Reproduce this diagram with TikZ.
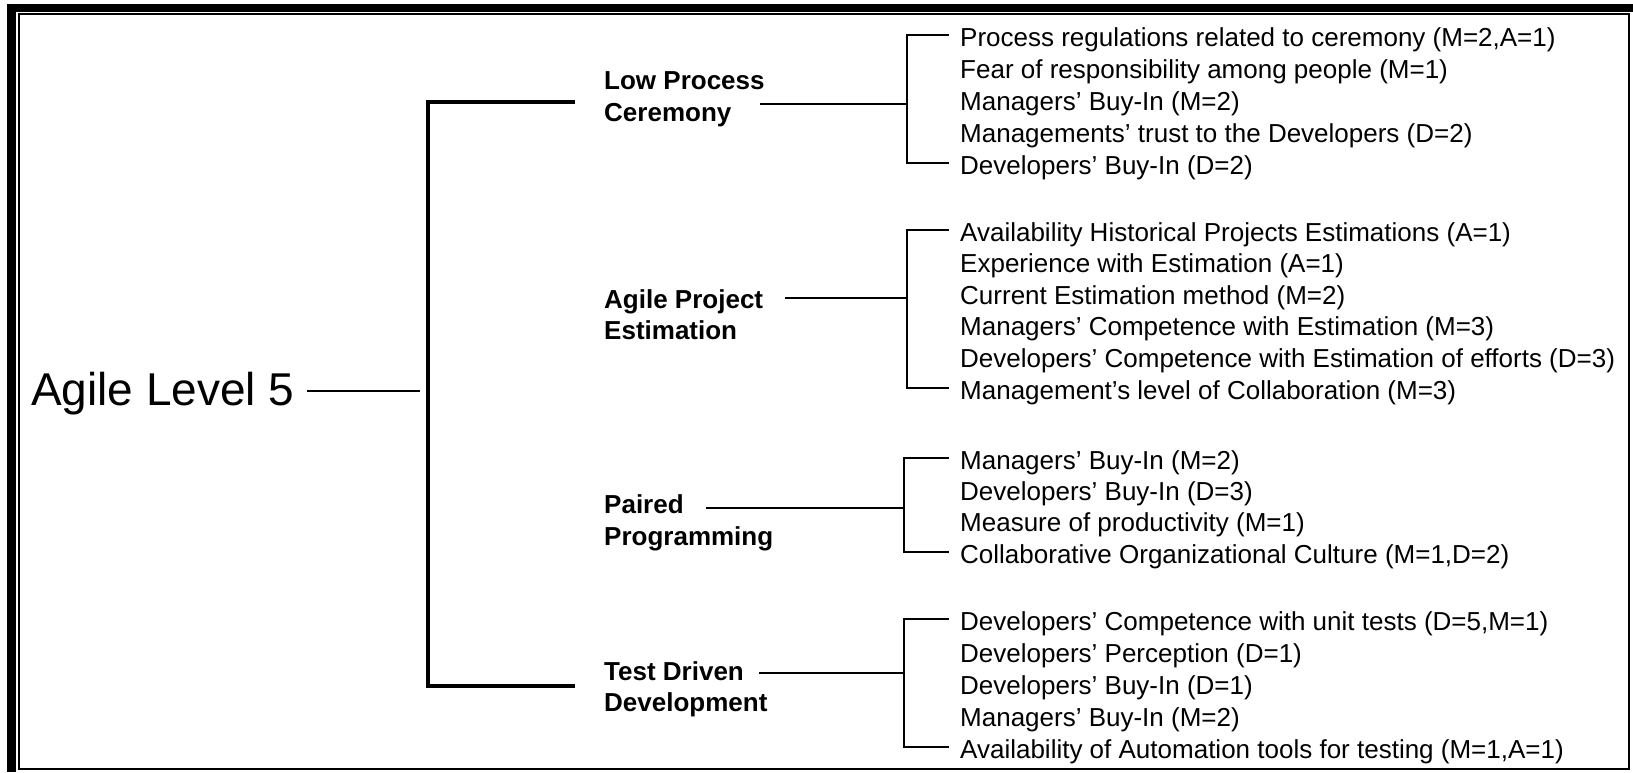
\documentclass[tikz,border=0pt]{standalone}
\usepackage{fontspec}
\setmainfont{Liberation Sans}
\begin{document}
\begin{tikzpicture}[x=1pt,y=-1pt,
  item/.style={anchor=base west,inner sep=0pt,font=\fontsize{26}{31}\selectfont},
  cat/.style={anchor=base west,inner sep=0pt,font=\fontsize{26}{31}\selectfont\bfseries},
  ttl/.style={anchor=base west,inner sep=0pt,font=\fontsize{46}{55}\selectfont},
  mainline/.style={line width=3.2pt,line join=miter},
  subline/.style={line width=1.4pt,line join=miter},
  conline/.style={line width=1.6pt}]
\useasboundingbox (0,0) rectangle (1633,772);
% frame
\fill[black] (7,4) rectangle (1633,12.3);
\fill[black] (7.3,4) rectangle (16,772);
\draw[line width=2.2pt] (19,14.3) rectangle (1629,769);

% title
\node[ttl] (title) at (31,405) {Agile Level 5};
\coordinate (t-s) at (307,391);
\coordinate (t-e) at (420,391);
\draw[line width=2pt] (t-s) -- (t-e);

% main bracket
\coordinate (m-ta) at (575,102);
\coordinate (m-t) at (428,102);
\coordinate (m-b) at (428,686);
\coordinate (m-ba) at (575,686);
\draw[mainline] (m-ta) -- (m-t) -- (m-b) -- (m-ba);

% categories
\node[cat] (lpc1) at (604,89.5) {Low Process};
\node[cat] (lpc2) at (604,121) {Ceremony};
\node[cat] (ape1) at (604,308) {Agile Project};
\node[cat] (ape2) at (604,339.5) {Estimation};
\node[cat] (pp1) at (604,513) {Paired};
\node[cat] (pp2) at (604,545) {Programming};
\node[cat] (tdd1) at (604,680) {Test Driven};
\node[cat] (tdd2) at (604,711) {Development};

% Low Process Ceremony
\coordinate (lpc-s) at (760,104);
\coordinate (lpc-j) at (907,104);
\coordinate (lpc-t) at (907,35);
\coordinate (lpc-b) at (907,163);
\coordinate (lpc-ta) at (949,35);
\coordinate (lpc-ba) at (949,163);
\draw[conline] (lpc-s) -- (lpc-j);
\draw[subline] (lpc-ta) -- (lpc-t) -- (lpc-b) -- (lpc-ba);
\node[item] (lpc-i1) at (960,46) {Process regulations related to ceremony (M=2,A=1)};
\node[item] (lpc-i2) at (960,78) {Fear of responsibility among people (M=1)};
\node[item] (lpc-i3) at (960,110) {Managers’ Buy-In (M=2)};
\node[item] (lpc-i4) at (960,142) {Managements’ trust to the Developers (D=2)};
\node[item] (lpc-i5) at (960,174) {Developers’ Buy-In (D=2)};

% Agile Project Estimation
\coordinate (ape-s) at (785,298);
\coordinate (ape-j) at (907,298);
\coordinate (ape-t) at (907,230);
\coordinate (ape-b) at (907,388);
\coordinate (ape-ta) at (949,230);
\coordinate (ape-ba) at (949,388);
\draw[conline] (ape-s) -- (ape-j);
\draw[subline] (ape-ta) -- (ape-t) -- (ape-b) -- (ape-ba);
\node[item] (ape-i1) at (960,241) {Availability Historical Projects Estimations (A=1)};
\node[item] (ape-i2) at (960,272.6) {Experience with Estimation (A=1)};
\node[item] (ape-i3) at (960,304.2) {Current Estimation method (M=2)};
\node[item] (ape-i4) at (960,335.8) {Managers’ Competence with Estimation (M=3)};
\node[item] (ape-i5) at (960,367.4) {Developers’ Competence with Estimation of efforts (D=3)};
\node[item] (ape-i6) at (960,399) {Management’s level of Collaboration (M=3)};

% Paired Programming
\coordinate (pp-s) at (706,508);
\coordinate (pp-j) at (904,508);
\coordinate (pp-t) at (904,458);
\coordinate (pp-b) at (904,552);
\coordinate (pp-ta) at (949,458);
\coordinate (pp-ba) at (949,552);
\draw[conline] (pp-s) -- (pp-j);
\draw[subline] (pp-ta) -- (pp-t) -- (pp-b) -- (pp-ba);
\node[item] (pp-i1) at (960,469) {Managers’ Buy-In (M=2)};
\node[item] (pp-i2) at (960,500.3) {Developers’ Buy-In (D=3)};
\node[item] (pp-i3) at (960,531.7) {Measure of productivity (M=1)};
\node[item] (pp-i4) at (960,563) {Collaborative Organizational Culture (M=1,D=2)};

% Test Driven Development
\coordinate (tdd-s) at (759,673);
\coordinate (tdd-j) at (904,673);
\coordinate (tdd-t) at (904,619);
\coordinate (tdd-b) at (904,747);
\coordinate (tdd-ta) at (949,619);
\coordinate (tdd-ba) at (949,747);
\draw[conline] (tdd-s) -- (tdd-j);
\draw[subline] (tdd-ta) -- (tdd-t) -- (tdd-b) -- (tdd-ba);
\node[item] (tdd-i1) at (960,630) {Developers’ Competence with unit tests (D=5,M=1)};
\node[item] (tdd-i2) at (960,662) {Developers’ Perception (D=1)};
\node[item] (tdd-i3) at (960,694) {Developers’ Buy-In (D=1)};
\node[item] (tdd-i4) at (960,726) {Managers’ Buy-In (M=2)};
\node[item] (tdd-i5) at (960,758) {Availability of Automation tools for testing (M=1,A=1)};
\end{tikzpicture}
\end{document}
